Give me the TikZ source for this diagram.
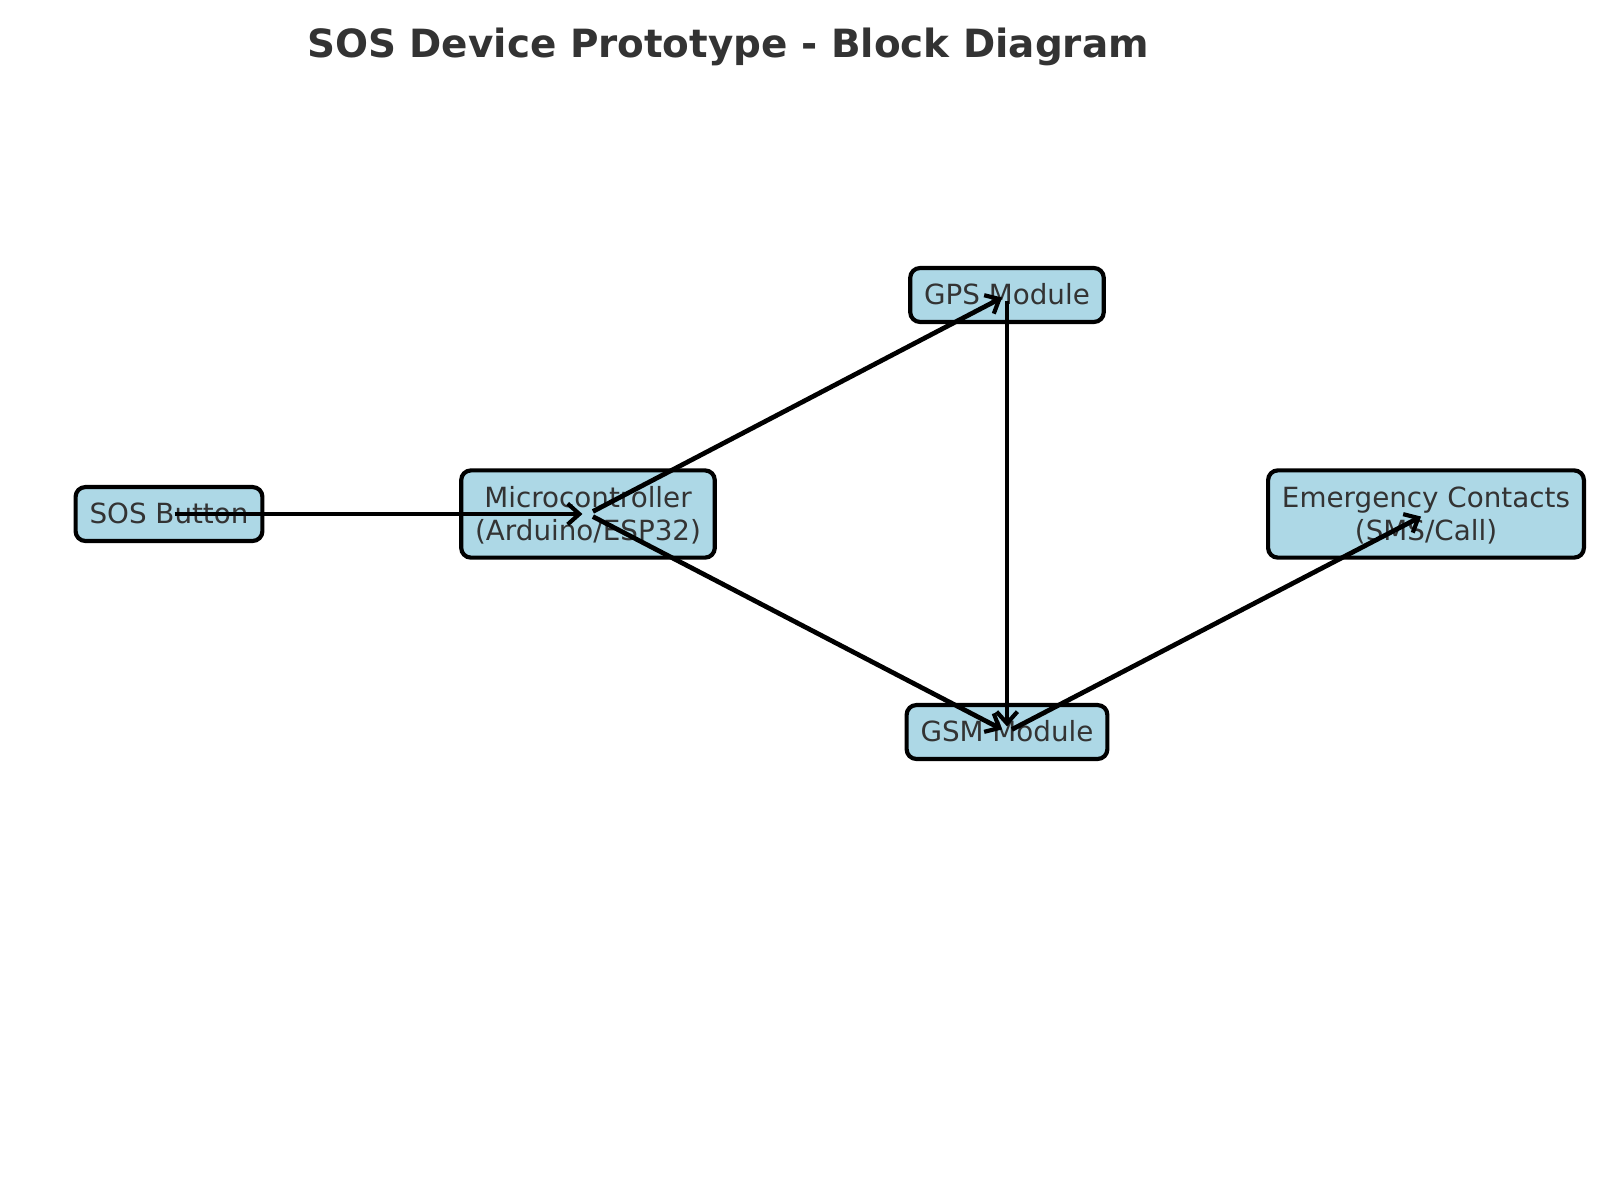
\documentclass[tikz,border=0pt]{standalone}
\usepackage{fontspec}
\setmainfont{DejaVu Sans}
\usepackage{tikz}
\usetikzlibrary{arrows.meta}
\definecolor{sosblue}{RGB}{173, 216, 230}
\definecolor{sostext}{RGB}{51, 51, 51}

\begin{document}
\begin{tikzpicture}[
      x=0.36pt, y=-0.36pt,
      box/.style={draw=black, fill=sosblue, line width=1.5pt, rounded corners=3.5pt,
                  inner xsep=5pt, inner ysep=5pt, text height=8.2pt, text depth=1.2pt,
                  font=\fontsize{10}{12}\selectfont, text=sostext, align=center},
      twoline/.style={box, text height=20.2pt},
      arrow/.style={-{Straight Barb[length=4.2pt, width=7.5pt, line width=1.5pt]}, line width=1.7pt, black,
                    shorten <=2pt, shorten >=2pt},
      title/.style={font=\fontsize{14}{17}\selectfont\bfseries, text=sostext}
    ]
      \useasboundingbox (0,0) rectangle (1600,1200);

      % Titre
      \node[title] (title) at (728,47) {SOS Device Prototype - Block Diagram};

      % Blocs
      \node[box] (button) at (169,514) {SOS Button};
      \node[twoline] (mcu) at (588,514) {Microcontroller\\(Arduino/ESP32)};
      \node[box] (gps) at (1007,295) {GPS Module};
      \node[box] (gsm) at (1007,732) {GSM Module};
      \node[twoline] (contacts) at (1426,514) {Emergency Contacts\\(SMS/Call)};

      % Flèches
      \draw[arrow] (button.center) -- (mcu.center);
      \draw[arrow] (mcu.center) -- (gps.center);
      \draw[arrow] (mcu.center) -- (gsm.center);
      \draw[arrow] (gps.center) -- (gsm.center);
      \draw[arrow] (gsm.center) -- (contacts.center);
    \end{tikzpicture}
\end{document}
